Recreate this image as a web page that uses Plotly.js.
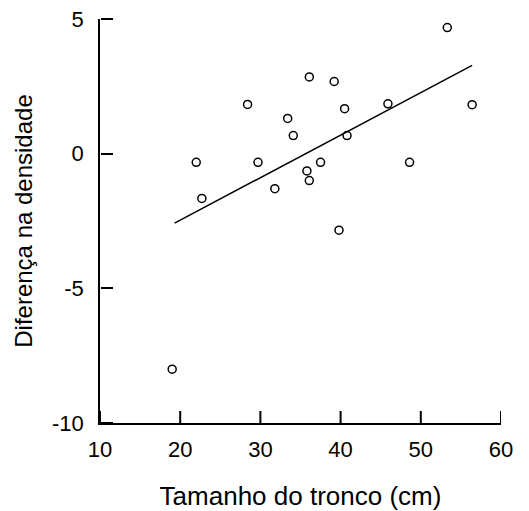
<!DOCTYPE html>
<html>
<head>
<meta charset="utf-8">
<script src="https://cdn.plot.ly/plotly-3.0.1.min.js"></script>
<style>html,body{margin:0;padding:0;background:#fff;}#chart{width:529px;height:511px;}</style>
</head>
<body>
<div id="chart"></div>
<script>
// Tamanho do tronco (cm)
const trunkSize = [19.0, 22.0, 22.7, 28.4, 29.7, 31.8, 33.4, 34.1, 35.8, 36.1, 36.1, 37.5, 39.2, 39.8, 40.5, 40.8, 45.9, 48.6, 53.3, 56.4];
// Diferença na densidade
const densityDiff = [-8.0, -0.32, -1.66, 1.83, -0.32, -1.30, 1.31, 0.67, -0.64, -1.0, 2.85, -0.32, 2.68, -2.84, 1.67, 0.67, 1.85, -0.32, 4.68, 1.82];
// Fitted regression line endpoints
const fitX = [19.3, 56.4];
const fitY = [-2.58, 3.28];
const xTicks = [10, 20, 30, 40, 50, 60];
const yTicks = [-10, -5, 0, 5];
const xRange = [10, 60];
const yRange = [-10, 5];

const W = 529, H = 511;
const margin = {l: 100, r: 28, t: 19, b: 88};
const tickLenPx = 12;
const plotH = H - margin.t - margin.b;
const tickLenData = tickLenPx * (yRange[1] - yRange[0]) / plotH;

// inward x tick marks, built from the x tick values
const tickX = [], tickY = [];
xTicks.forEach(function (t) {
  tickX.push(t, t, null);
  tickY.push(yRange[0], yRange[0] + tickLenData, null);
});

const data = [
  {
    x: tickX, y: tickY, type: 'scatter', mode: 'lines', cliponaxis: false, connectgaps: false,
    line: {color: '#000', width: 2}, hoverinfo: 'skip', showlegend: false
  },
  {
    x: fitX, y: fitY, type: 'scatter', mode: 'lines', xaxis: 'x2', yaxis: 'y2',
    line: {color: '#000', width: 1.5}, hoverinfo: 'skip', showlegend: false
  },
  {
    x: trunkSize, y: densityDiff, type: 'scatter', mode: 'markers',
    marker: {symbol: 'circle-open', size: 8, color: '#000', line: {color: '#000', width: 1.5}},
    showlegend: false
  }
];

// secondary axes: the y one carries the inward-pointing y tick marks
const tickAxis = {
  showticklabels: false, ticks: 'outside', ticklen: tickLenPx, tickwidth: 1.5, tickcolor: '#000',
  showline: false, showgrid: false, zeroline: false, anchor: 'free', position: 0
};

const layout = {
  width: W, height: H,
  margin: margin,
  paper_bgcolor: '#fff', plot_bgcolor: '#fff',
  font: {family: 'Liberation Sans, Arial, sans-serif', color: '#000'},
  showlegend: false,
  xaxis: {
    range: xRange, tickmode: 'array', tickvals: xTicks, ticktext: xTicks.map(String),
    showgrid: false, zeroline: false, showline: true, linecolor: '#000', linewidth: 1.5,
    ticks: '', tickfont: {size: 22}, ticklabelstandoff: 6,
    title: {text: 'Tamanho do tronco (cm)', font: {size: 26}, standoff: 26}
  },
  yaxis: {
    range: yRange, tickmode: 'array', tickvals: yTicks, ticktext: yTicks.map(String),
    showgrid: false, zeroline: false, showline: true, linecolor: '#000', linewidth: 1.5,
    ticks: '', tickfont: {size: 22}, ticklabelstandoff: 10,
    title: {text: 'Diferença na densidade', font: {size: 24}, standoff: 13}
  },
  xaxis2: Object.assign({}, tickAxis, {overlaying: 'x', side: 'top', range: xRange, tickmode: 'array', tickvals: xTicks, ticks: ''}),
  yaxis2: Object.assign({}, tickAxis, {overlaying: 'y', side: 'right', range: yRange, tickmode: 'array', tickvals: yTicks})
};

Plotly.newPlot('chart', data, layout, {displayModeBar: false});
</script>
</body>
</html>
